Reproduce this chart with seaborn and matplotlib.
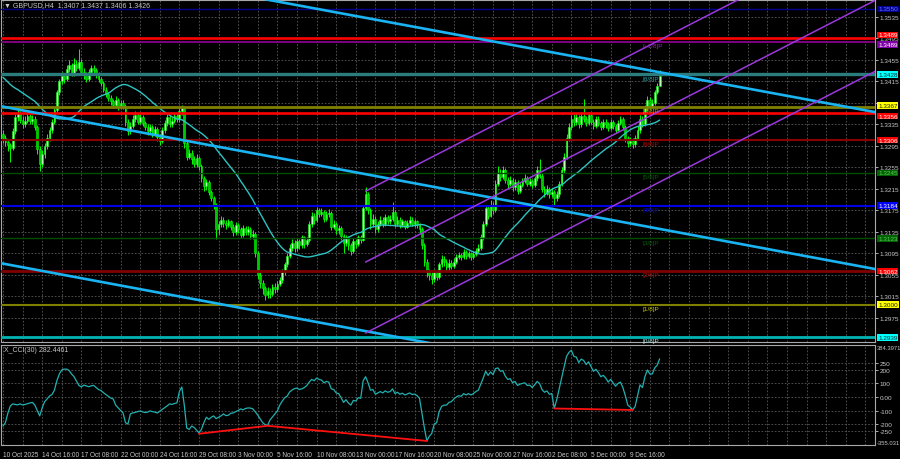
import numpy as np
import pandas as pd
import matplotlib
matplotlib.use("Agg")
import matplotlib.pyplot as plt
import matplotlib.transforms as mtrans
import seaborn as sns

# ---------------- data ----------------
symbol_title = "\u25bc GBPUSD,H4  1.3407 1.3437 1.3406 1.3426"
cci_title = "X_CCI(30) 282.4461"

price_base = 1.3000
pip = 0.0001
first_open = 318  # pips above 1.3000

closes = [
    310, 302, 296, 292, 322, 348, 356, 344, 336, 342,
    350, 341, 346, 330, 290, 262, 280, 295, 310, 325,
    340, 362, 395, 415, 425, 420, 438, 445, 430, 448,
    440, 452, 432, 428, 420, 432, 440, 436, 428, 420,
    412, 400, 392, 385, 378, 372, 380, 368, 375, 370,
    340, 322, 332, 345, 352, 340, 348, 338, 330, 322,
    330, 318, 326, 312, 305, 325, 338, 348, 335, 342,
    350, 345, 360, 365, 300, 275, 282, 270, 262, 272,
    258, 235, 220, 228, 210, 198, 185, 140, 150, 158,
    152, 148, 155, 145, 135, 148, 140, 130, 142, 135,
    140, 128, 132, 95, 55, 40, 30, 18, 25, 20,
    32, 28, 38, 45, 60, 75, 90, 105, 115, 105,
    118, 110, 125, 112, 120, 150, 165, 158, 175, 168,
    172, 160, 168, 170, 145, 150, 138, 142, 128, 115,
    125, 110, 100, 118, 112, 125, 120, 180, 205, 175,
    150, 160, 140, 150, 158, 150, 162, 155, 160, 172,
    150, 158, 148, 155, 145, 152, 158, 150, 155, 148,
    140, 110, 80, 60, 55, 48, 60, 52, 75, 85,
    80, 70, 78, 72, 80, 88, 92, 88, 98, 90,
    95, 88, 94, 100, 105, 125, 150, 180, 165, 185,
    175, 225, 245, 238, 250, 232, 225, 232, 218, 228,
    212, 222, 230, 235, 225, 230, 222, 235, 250, 240,
    215, 208, 215, 205, 210, 198, 205, 225, 250, 275,
    310, 330, 345, 340, 348, 335, 350, 345, 338, 352,
    340, 332, 345, 338, 330, 340, 335, 328, 340, 332,
    325, 338, 345, 330, 310, 300, 305, 298, 310, 325,
    345, 335, 365, 380, 370, 375, 395, 407, 426,
]
highs = [
    325, 315, 308, 300, 328, 355, 368, 360, 350, 350,
    358, 355, 352, 350, 334, 295, 288, 300, 318, 330,
    345, 368, 400, 420, 432, 430, 445, 455, 450, 458,
    455, 475, 456, 440, 432, 438, 446, 445, 440, 432,
    424, 416, 405, 396, 390, 383, 388, 384, 380, 380,
    373, 345, 340, 352, 360, 356, 354, 352, 342, 335,
    336, 334, 332, 330, 318, 330, 344, 354, 352, 348,
    356, 355, 366, 372, 368, 305, 290, 288, 276, 280,
    276, 262, 240, 234, 232, 214, 202, 188, 156, 164,
    162, 158, 160, 158, 150, 154, 152, 144, 148, 146,
    146, 144, 138, 135, 100, 60, 46, 35, 32, 30,
    38, 40, 44, 52, 66, 80, 96, 112, 122, 120,
    124, 122, 130, 128, 126, 156, 172, 170, 182, 180,
    180, 176, 174, 178, 174, 158, 154, 148, 146, 132,
    130, 128, 114, 124, 122, 130, 130, 186, 218, 210,
    180, 168, 165, 156, 164, 162, 168, 166, 166, 190,
    176, 164, 162, 160, 158, 158, 164, 162, 160, 158,
    152, 144, 114, 84, 66, 60, 66, 64, 80, 92,
    90, 84, 84, 82, 86, 94, 98, 96, 104, 102,
    100, 98, 100, 106, 112, 132, 156, 186, 184, 195,
    190, 232, 258, 252, 258, 254, 238, 240, 236, 234,
    232, 228, 236, 242, 240, 236, 234, 240, 258, 271,
    244, 220, 222, 218, 216, 214, 212, 230, 256, 282,
    318, 338, 352, 354, 356, 352, 358, 382, 350, 358,
    356, 346, 350, 350, 342, 346, 345, 340, 346, 344,
    336, 344, 350, 348, 334, 314, 312, 310, 316, 332,
    352, 350, 372, 388, 386, 382, 400, 412, 437,
]
lows = [
    300, 295, 285, 265, 288, 318, 342, 338, 328, 330,
    338, 335, 336, 325, 280, 248, 255, 272, 290, 305,
    320, 336, 358, 390, 410, 412, 415, 432, 425, 426,
    434, 436, 428, 420, 414, 416, 428, 430, 422, 414,
    406, 395, 386, 378, 372, 365, 368, 362, 363, 364,
    332, 315, 318, 328, 340, 335, 336, 332, 324, 316,
    318, 312, 314, 305, 296, 300, 320, 332, 330, 330,
    338, 340, 340, 352, 292, 268, 270, 262, 255, 256,
    250, 228, 212, 214, 204, 192, 178, 122, 132, 145,
    145, 140, 144, 138, 128, 130, 134, 124, 126, 130,
    130, 122, 122, 88, 48, 30, 20, 8, 12, 12,
    15, 22, 24, 34, 40, 55, 70, 86, 100, 98,
    100, 104, 106, 106, 108, 116, 145, 150, 154, 162,
    164, 154, 155, 162, 138, 140, 132, 132, 120, 95,
    108, 102, 92, 96, 105, 108, 114, 118, 176, 168,
    140, 145, 134, 135, 146, 144, 146, 150, 150, 156,
    145, 146, 142, 144, 140, 142, 148, 146, 145, 142,
    134, 104, 72, 52, 45, 38, 42, 45, 48, 70,
    72, 62, 64, 66, 68, 76, 84, 82, 84, 85,
    86, 83, 84, 90, 96, 102, 120, 146, 160, 162,
    168, 172, 220, 230, 234, 226, 216, 220, 212, 214,
    206, 208, 218, 226, 220, 220, 216, 218, 230, 235,
    210, 200, 204, 198, 200, 183, 192, 200, 220, 245,
    270, 305, 325, 332, 334, 328, 330, 340, 332, 334,
    335, 326, 328, 332, 324, 326, 328, 322, 324, 326,
    320, 322, 334, 324, 302, 294, 295, 292, 294, 306,
    320, 330, 332, 360, 364, 365, 372, 392, 406,
]
# closes of the 29 bars before the visible window (needed for the 30-bar MA)
prior_closes = [
    430, 435, 428, 436, 440, 434, 438, 432, 440, 436,
    438, 432, 428, 425, 430, 422, 418, 425, 420, 415,
    418, 440, 438, 432, 428, 420, 412, 400, 385,
]
ma_period = 30

cci = [
    -215, -190, -120, -66, -51, -55, -58, -51, -59, -55,
    -50, -44, -40, -60, -100, -140, -80, -35, -15, 7,
    18, 50, 120, 170, 200, 206, 206, 195, 170, 150,
    118, 85, 74, 88, 82, 76, 82, 86, 70, 55,
    48, 32, 18, 5, -8, -15, -60, -80, -100, -118,
    -190, -200, -125, -118, -114, -108, -103, -110, -115, -112,
    -103, -108, -112, -118, -105, -92, -78, -66, -51, -55,
    -48, -44, 40, 74, -60, -230, -240, -215, -225, -245,
    -265, -240, -190, -150, -165, -150, -140, -160, -150, -140,
    -125, -138, -135, -120, -118, -108, -100, -88, -95, -85,
    -81, -82, -88, -110, -135, -162, -190, -205, -210, -169,
    -147, -125, -103, -59, -30, -5, 7, 37, 52, 62,
    66, 55, 60, 70, 85, 110, 130, 120, 140, 130,
    125, 105, 115, 110, 60, 55, 30, 25, -5, -40,
    -20, -45, -60, -25, -30, -5, -10, 120, 150, 105,
    50, 55, 20, 30, 40, 30, 45, 35, 40, 60,
    25, 35, 20, 28, 15, 22, 30, 18, 22, 10,
    -10, -120, -230, -325, -290, -270, -200, -190, -110, -70,
    -60, -60, -40, -35, -15, 0, 10, 5, 25, 15,
    25, 15, 25, 40, 50, 95, 140, 190, 160, 185,
    165, 210, 215, 190, 195, 155, 130, 135, 105, 115,
    85, 95, 100, 105, 85, 88, 70, 90, 115, 100,
    55, 35, 45, 20, 25, -85, -20, 60, 140, 220,
    300, 330, 345, 300, 295, 255, 280, 270, 240, 260,
    225, 190, 205, 180, 150, 160, 140, 110, 130, 105,
    80, 100, 110, 70, 10, -60, -75, -95, -70, 10,
    90, 70, 150, 200, 170, 170, 215, 235, 282.4461,
]

date_labels = ["10 Oct 2025", "14 Oct 16:00", "17 Oct 08:00", "22 Oct 00:00",
               "24 Oct 16:00", "29 Oct 08:00", "3 Nov 00:00", "5 Nov 16:00",
               "10 Nov 08:00", "13 Nov 00:00", "17 Nov 16:00", "20 Nov 08:00",
               "25 Nov 00:00", "27 Nov 16:00", "2 Dec 08:00", "5 Dec 00:00",
               "9 Dec 16:00"]
date_label_bars = [0, 16, 32, 48, 64, 80, 96, 112, 128, 144, 160, 176, 192,
                   208, 224, 240, 256]

price_ticks = [1.2975, 1.3015, 1.3055, 1.3095, 1.3135, 1.3175, 1.3215, 1.3255,
               1.3295, 1.3335, 1.3375, 1.3415, 1.3455, 1.3495, 1.3535]
cci_levels = [250, 200, 100, 0, -100, -200, -250]
cci_level_labels = ["250", "200", "100", "0.00", "-100", "-200", "-250"]
cci_min, cci_max = -355.031, 384.3971

murrey_prices = [1.3550, 1.3489, 1.3428, 1.3367, 1.3306, 1.3245, 1.3184,
                 1.3123, 1.3062, 1.3000, 1.2939]
murrey_names = ["[+2/8]P", "[+1/8]P", "[8/8]P", "[7/8]P", "[6/8]P", "[5/8]P",
                "[4/8]P", "[3/8]P", "[2/8]P", "[1/8]P", "[0/8]P"]
red_levels = [1.3496, 1.3356]

channel_bars = [[107, 356], [-1, 356], [-1, 356]]
channel_prices = [[1.3568, 1.3358], [1.3369, 1.3066], [1.3077, 1.2774]]
regr_bars = [148, 356]
regr_prices = [[1.3211, 1.3698], [1.3079, 1.3566], [1.2947, 1.3434]]
div_bars = [[80, 108, 173], [225, 257]]
div_vals = [[-272, -213, -325], [-85, -96]]

box_texts = ["1.3550", "1.3489", "1.3489", "1.3428", "1.3367", "1.3356",
             "1.3306", "1.3245", "1.3184", "1.3123", "1.3062", "1.3000", "1.2939"]
box_levels = [1.3550, 1.3496, 1.3489, 1.3428, 1.3367, 1.3356, 1.3306, 1.3245,
              1.3184, 1.3123, 1.3062, 1.3000, 1.2939]

# ---------------- styles ----------------
box_shift_px = [0, -3, 3, 0, -2, 3, 0, 0, 0, 0, 0, 0, 0]  # de-stacking of tags
murrey_colors = ["#000090", "#800080", "#2b7d7d", "#808000", "#8b0000", "#004d00",
                 "#0000e6", "#004d00", "#800000", "#808000", "#00b4b4"]
murrey_widths = [1.0, 1.4, 2.4, 2.0, 1.5, 1.0, 1.5, 1.0, 2.0, 1.5, 2.0]
murrey_text_colors = ["#3030c0", "#8a2aa8", "#2aa0a0", "#c8a000", "#c00000", "#006000",
                      "#0000e0", "#006000", "#c00000", "#c8c800", "#b0e8e8"]
box_bg = ["#000090", "#ff0000", "#8000a8", "#00ffff", "#ffff00", "#ff0000", "#ff0000",
          "#006400", "#0000ff", "#006400", "#ff0000", "#ffff00", "#00ffff"]
box_fg = ["#7070ff", "#ffffff", "#ffffff", "#003030", "#202000", "#ffffff", "#ffffff",
          "#60c060", "#ffffff", "#60c060", "#ffffff", "#202000", "#003030"]

sns.set_style("dark")
plt.rcParams["font.family"] = ["Liberation Sans", "DejaVu Sans"]

W, H = 900, 460
fig = plt.figure(figsize=(9, 4.6), dpi=100, facecolor="black")


def rect(x0, y0, x1, y1):
    return [x0 / W, 1 - y1 / H, (x1 - x0) / W, (y1 - y0) / H]


ax = fig.add_axes(rect(1, 1, 875, 343))
ax2 = fig.add_axes(rect(1, 346, 875, 446))
XMIN, XMAX = -0.8, 355.9

grid_kw = dict(color="#5a5a5a", lw=0.6, ls=(0, (2, 2)), zorder=0.5)
txt_col = "#c8c8c8"
AX_FS = 4.6
for a in (ax, ax2):
    a.set_facecolor("black")
    for s in a.spines.values():
        s.set_color("#a8a8a8")
        s.set_linewidth(0.8)
    for gx in range(0, 357, 8):
        a.axvline(gx, **grid_kw)
    a.set_xlim(XMIN, XMAX)

# ---------------- main price panel ----------------
n = len(closes)
bars = np.arange(n)
opens = [first_open] + closes[:-1]
df = pd.DataFrame({
    "bar": bars,
    "open": price_base + np.array(opens) * pip,
    "high": price_base + np.array(highs) * pip,
    "low": price_base + np.array(lows) * pip,
    "close": price_base + np.array(closes) * pip,
})
all_close = pd.Series(price_base + np.array(prior_closes + closes) * pip)
df["ma"] = all_close.rolling(ma_period).mean().iloc[len(prior_closes):].to_numpy()

ax.set_ylim(1.29303, 1.35666)
for p in price_ticks:
    ax.axhline(p, **grid_kw)

for p, c, w in zip(murrey_prices, murrey_colors, murrey_widths):
    ax.axhline(p, color=c, lw=w, zorder=5)
for p in red_levels:
    ax.axhline(p, color="#ff0000", lw=1.9, zorder=5)

ax.vlines(df["bar"], df["low"], df["high"], color="#00ff00", lw=0.7, zorder=3)
bull = df["close"] >= df["open"]
body_lo = np.minimum(df["open"], df["close"])
body_h = np.maximum((df["close"] - df["open"]).abs(), 0.00004)
ax.bar(df["bar"][bull], body_h[bull], bottom=body_lo[bull], width=0.72,
       color="#b8ffb8", edgecolor="#00ff00", linewidth=0.4, zorder=3.5)
ax.bar(df["bar"][~bull], body_h[~bull], bottom=body_lo[~bull], width=0.72,
       color="#00c800", edgecolor="#00ff00", linewidth=0.4, zorder=3.5)

sns.lineplot(data=df, x="bar", y="ma", ax=ax, color="#2ec4c4", lw=1.0,
             legend=False, zorder=4)

for bx, py in zip(channel_bars, channel_prices):
    ax.plot(bx, py, color="#1ab4f2", lw=1.9, zorder=6, solid_capstyle="butt")
for py in regr_prices:
    ax.plot(regr_bars, py, color="#9a38dc", lw=1.1, zorder=6)

for p, name, c in zip(murrey_prices[1:], murrey_names[1:], murrey_text_colors[1:]):
    ax.text(261, p - 0.0002, name, color=c, fontsize=AX_FS, va="top", ha="left",
            zorder=7)

ax.set_xticks([])
ax.yaxis.tick_right()
ax.set_yticks(price_ticks)
ax.set_yticklabels([f"{p:.4f}" for p in price_ticks])
ax.tick_params(axis="y", labelsize=AX_FS, colors=txt_col, length=2, pad=1.5,
               width=0.6)
ax.set_xlabel("")
ax.set_ylabel("")

tr = mtrans.blended_transform_factory(ax.transAxes, ax.transData)
for p, t, bg, fg, dy in zip(box_levels, box_texts, box_bg, box_fg, box_shift_px):
    off = mtrans.offset_copy(tr, fig=fig, x=0, y=-dy, units="dots")
    ax.text(1.0035, p, t, transform=off, fontsize=AX_FS, color=fg, va="center",
            ha="left", clip_on=False, zorder=20,
            bbox=dict(boxstyle="square,pad=0.12", fc=bg, ec="none"))

fig.text(4 / W, 1 - 6 / H, symbol_title, color=txt_col, fontsize=5,
         va="center", ha="left")

# ---------------- CCI panel ----------------
cdf = pd.DataFrame({"bar": bars, "cci": cci})
ax2.set_ylim(cci_min, cci_max)
for lv in cci_levels:
    ax2.axhline(lv, **grid_kw)
sns.lineplot(data=cdf, x="bar", y="cci", ax=ax2, color="#22b0b0", lw=0.9,
             legend=False, zorder=4)
for bx, vy in zip(div_bars, div_vals):
    ax2.plot(bx, vy, color="#ff1010", lw=1.3, zorder=5)

ax2.yaxis.tick_right()
ax2.set_yticks(cci_levels)
ax2.set_yticklabels(cci_level_labels)
ax2.tick_params(axis="y", labelsize=AX_FS, colors=txt_col, length=2, pad=1.5,
                width=0.6)
tr2 = mtrans.blended_transform_factory(ax2.transAxes, ax2.transData)
ax2.text(1.0025, cci_max, f"{cci_max:.4f}", transform=tr2, fontsize=4.2,
         color=txt_col, va="top", ha="left", clip_on=False)
ax2.text(1.0025, cci_min, f"{cci_min:.3f}", transform=tr2, fontsize=4.2,
         color=txt_col, va="bottom", ha="left", clip_on=False)

ax2.set_xticks(date_label_bars)
ax2.set_xticklabels(date_labels, ha="left")
ax2.tick_params(axis="x", labelsize=4.7, colors=txt_col, length=3, pad=1.5,
                width=0.6)
ax2.set_xlabel("")
ax2.set_ylabel("")
fig.text(4 / W, 1 - 350 / H, cci_title, color=txt_col, fontsize=5,
         va="center", ha="left")

fig.savefig("out.png", dpi=100, facecolor="black")
